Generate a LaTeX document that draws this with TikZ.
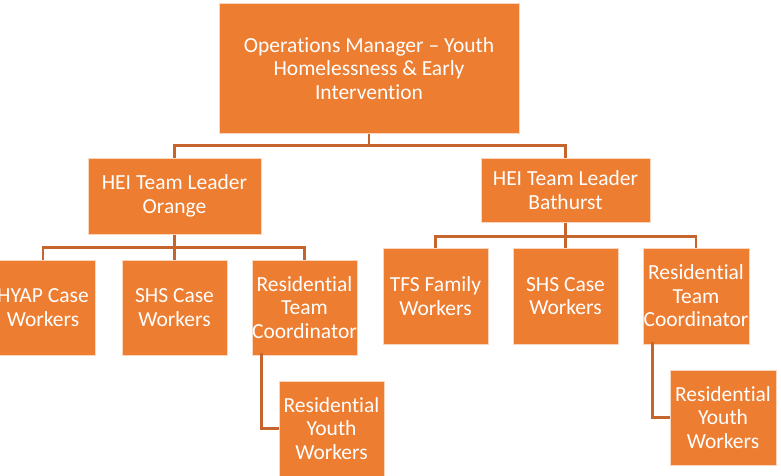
\documentclass[tikz,border=0pt]{standalone}
\usepackage{fontspec}
\setmainfont[Ligatures=NoCommon]{Carlito}
\definecolor{boxorange}{RGB}{237,125,49}
\definecolor{boxedge}{RGB}{250,214,190}
\definecolor{linkorange}{RGB}{197,101,45}
\tikzset{
	orgbox/.style={fill=boxorange, draw=boxedge, line width=1pt, text=white, align=center,
		inner sep=0pt, font=\fontsize{21.5}{23.5}\selectfont},
	link/.style={draw=linkorange, line width=2.6pt}
}

\begin{document}
\begin{tikzpicture}[x=1pt, y=-1pt]
	\useasboundingbox (0,0) rectangle (781,476);
	\clip (0,0) rectangle (781,476);
	% Boxes:
	\node[orgbox, minimum width=300pt, minimum height=129pt] (ops) at (369, 68.5){Operations Manager – Youth\\Homelessness \& Early\\Intervention};
	\node[orgbox, minimum width=173pt, minimum height=76pt] (leadO) at (174.5, 196){HEI Team Leader\\Orange};
	\node[orgbox, minimum width=169pt, minimum height=64pt] (leadB) at (565.5, 190){HEI Team Leader\\Bathurst};
	\node[orgbox, minimum width=105pt, minimum height=95pt] (hyap) at (43, 307.5){HYAP Case\\Workers};
	\node[orgbox, minimum width=105pt, minimum height=95pt] (shsO) at (174.5, 307.5){SHS Case\\Workers};
	\node[orgbox, minimum width=105pt, minimum height=95pt] (rtcO) at (304.5, 307.5){Residential\\Team\\Coordinator};
	\node[orgbox, minimum width=105pt, minimum height=95pt] (rywO) at (331.5, 428.5){Residential\\Youth\\Workers};
	\node[orgbox, minimum width=105pt, minimum height=96pt] (tfs) at (435.5, 296){TFS Family\\Workers};
	\node[orgbox, minimum width=105pt, minimum height=96pt] (shsB) at (565.5, 296){SHS Case\\Workers};
	\node[orgbox, minimum width=106pt, minimum height=96pt] (rtcB) at (696, 296){Residential\\Team\\Coordinator};
	\node[orgbox, minimum width=106pt, minimum height=95pt] (rywB) at (723, 417.5){Residential\\Youth\\Workers};
	% Lines:
	\draw[link] (ops.south) -- ++(0,12) -| (leadO.north);
	\draw[link] (ops.south) -- ++(0,12) -| (leadB.north);
	\draw[link] (leadO.south) -- ++(0,13) -| (hyap.north);
	\draw[link] (leadO.south) -- ++(0,13) -| (shsO.north);
	\draw[link] (leadO.south) -- ++(0,13) -| (rtcO.north);
	\draw[link] (leadB.south) -- ++(0,14) -| (tfs.north);
	\draw[link] (leadB.south) -- ++(0,14) -| (shsB.north);
	\draw[link] (leadB.south) -- ++(0,14) -| (rtcB.north);
	\draw[link] ([xshift=10pt, yshift=3pt]rtcO.south west) |- (rywO.west);
	\draw[link] ([xshift=10pt, yshift=3pt]rtcB.south west) |- (rywB.west);
\end{tikzpicture}
\end{document}
